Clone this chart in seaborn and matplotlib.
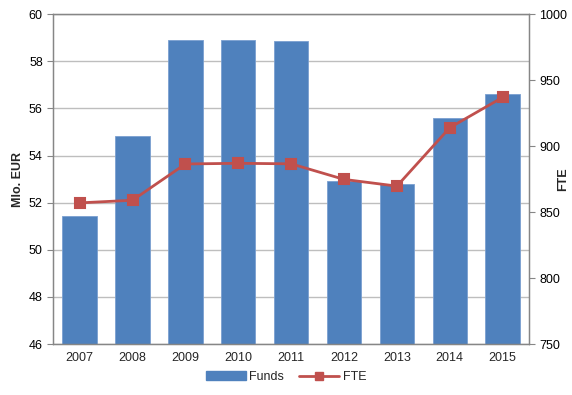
import pandas as pd
import matplotlib
matplotlib.use("Agg")
import matplotlib.pyplot as plt
import seaborn as sns
from matplotlib.patches import Patch
from matplotlib.lines import Line2D

years = ["2007", "2008", "2009", "2010", "2011", "2012", "2013", "2014", "2015"]
funds = [51.45, 54.83, 58.9, 58.9, 58.85, 52.92, 52.78, 55.6, 56.63]
fte = [857, 859, 886.5, 887, 886.6, 874.8, 869.7, 914, 937]

bar_color = "#4F81BD"
line_color = "#C0504D"
axis_grey = "#868686"

sns.set_style("white")
plt.rcParams["font.family"] = ["Liberation Sans", "DejaVu Sans"]

df = pd.DataFrame({"year": years, "funds": funds, "fte": fte})

fig = plt.figure(figsize=(5.72, 3.95), dpi=100)
ax = fig.add_axes([0.093, 0.129, 0.832, 0.835])

sns.barplot(data=df, x="year", y="funds", color=bar_color, saturation=1,
            width=0.65, ax=ax, zorder=2, edgecolor="#7A9FD0", linewidth=0.6)
ax.set_ylim(46, 60)
ax.set_yticks(range(46, 61, 2))
ax.yaxis.grid(True, color="#BEBEBE", linewidth=1, zorder=0)
ax.set_axisbelow(True)
ax.set_xlabel("")
ax.set_ylabel("Mlo. EUR", fontsize=9, fontweight="bold")
ax.yaxis.set_label_coords(-0.061, 0.5)

ax2 = ax.twinx()
sns.pointplot(data=df, x="year", y="fte", ax=ax2, color=line_color,
              markers="s", linestyles="-", markersize=7, linewidth=2)
ax2.set_ylim(750, 1000)
ax2.set_yticks(range(750, 1001, 50))
ax2.set_ylabel("FTE", fontsize=9, fontweight="bold", rotation=90)
ax2.yaxis.set_label_coords(1.058, 0.5)
ax2.set_xlim(-0.5, len(years) - 0.5)
ax.set_xlim(-0.5, len(years) - 0.5)

for a in (ax, ax2):
    for side, sp in a.spines.items():
        sp.set_color(axis_grey)
        sp.set_linewidth(0.9)
    a.tick_params(axis="y", labelsize=9, colors="black", length=4,
                  color=axis_grey, direction="out")
ax.spines["top"].set_color("#6E6E6E")

ax.set_xticks(range(len(years)))
ax.set_xticklabels(years, fontsize=9)
ax.tick_params(axis="x", which="major", length=0, pad=6)
ax.set_xticks([i + 0.5 for i in range(-1, len(years))], minor=True)
ax.tick_params(axis="x", which="minor", length=4, color=axis_grey, direction="out")

handles = [Patch(facecolor=bar_color, edgecolor=bar_color, label="Funds"),
           Line2D([0], [0], color=line_color, lw=2, marker="s", markersize=6, label="FTE")]
fig.legend(handles=handles, loc="center", bbox_to_anchor=(0.5, 0.045), ncol=2,
           frameon=False, fontsize=9, handlelength=3.2, handleheight=0.7,
           columnspacing=1.2, handletextpad=0.3)

fig.savefig("out.png", dpi=100)
